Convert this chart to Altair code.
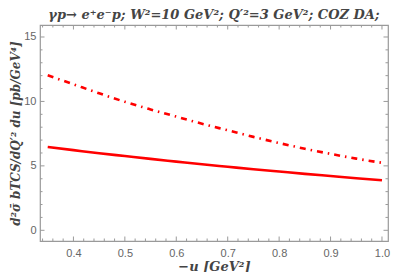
import altair as alt
import pandas as pd

u_vals = [0.35, 0.40, 0.45, 0.50, 0.55, 0.60, 0.65, 0.70, 0.75, 0.80, 0.85, 0.90, 0.95, 1.00]
solid_vals = [6.46, 6.22, 5.98, 5.76, 5.54, 5.33, 5.12, 4.93, 4.74, 4.56, 4.38, 4.21, 4.04, 3.88]
dashdot_vals = [12.03, 11.33, 10.63, 9.97, 9.38, 8.82, 8.27, 7.76, 7.25, 6.77, 6.33, 5.93, 5.56, 5.24]

x_major = [0.4, 0.5, 0.6, 0.7, 0.8, 0.9, 1.0]
x_minor = [0.34, 0.36, 0.38, 0.42, 0.44, 0.46, 0.48, 0.52, 0.54, 0.56, 0.58,
           0.62, 0.64, 0.66, 0.68, 0.72, 0.74, 0.76, 0.78, 0.82, 0.84, 0.86,
           0.88, 0.92, 0.94, 0.96, 0.98]
y_major = [0, 5, 10, 15]
y_minor = [1, 2, 3, 4, 6, 7, 8, 9, 11, 12, 13, 14]

W, H = 348, 216
gray = "#9a9a9a"
lab = "#666666"
serif = "DejaVu Serif"

xs = alt.Scale(domain=[0.335, 1.0117], nice=False, zero=False)
ys = alt.Scale(domain=[-0.83, 15.93], nice=False, zero=False)

df = pd.DataFrame({"u": u_vals, "solid": solid_vals, "dashdot": dashdot_vals})

xaxis = alt.Axis(values=x_major, format=".1f", grid=False, ticks=False, domain=False,
                 labelColor=lab, labelFont="Liberation Sans", labelFontSize=11,
                 labelPadding=6, title="−u [GeV²]", titleFont=serif,
                 titleFontStyle="italic", titleFontWeight="bold", titleFontSize=13,
                 titleColor="#444444", titlePadding=2)
yaxis = alt.Axis(values=y_major, format="d", grid=False, ticks=False, domain=False,
                 labelColor=lab, labelFont="Liberation Sans", labelFontSize=11,
                 labelPadding=4, title="d²σ̄ bTCS/dQ′² du  [pb/GeV⁴]",
                 titleFont=serif, titleFontStyle="italic",
                 titleFontWeight="bold", titleFontSize=12, titleColor="#444444",
                 titlePadding=1)

base = alt.Chart(df)
solid = base.mark_line(color="#ff0000", strokeWidth=2.6, interpolate="monotone").encode(
    x=alt.X("u:Q", scale=xs, axis=xaxis),
    y=alt.Y("solid:Q", scale=ys, axis=yaxis),
)
dashdot = base.mark_line(color="#ff0000", strokeWidth=2.6, interpolate="monotone",
                         strokeDash=[6, 5, 1.5, 5]).encode(
    x=alt.X("u:Q", scale=xs),
    y=alt.Y("dashdot:Q", scale=ys),
)

def xticks(vals, length):
    d = pd.DataFrame({"v": vals})
    b = alt.Chart(d).mark_rule(color=gray, strokeWidth=1)
    bottom = b.encode(x=alt.X("v:Q", scale=xs), y=alt.value(H), y2=alt.value(H - length))
    top = b.encode(x=alt.X("v:Q", scale=xs), y=alt.value(0), y2=alt.value(length))
    return [bottom, top]

def yticks(vals, length):
    d = pd.DataFrame({"v": vals})
    b = alt.Chart(d).mark_rule(color=gray, strokeWidth=1)
    left = b.encode(y=alt.Y("v:Q", scale=ys), x=alt.value(0), x2=alt.value(length))
    right = b.encode(y=alt.Y("v:Q", scale=ys), x=alt.value(W), x2=alt.value(W - length))
    return [left, right]

layers = xticks(x_major, 4.5) + xticks(x_minor, 2.5) + yticks(y_major, 4.5) + yticks(y_minor, 2.5)

chart = alt.layer(*layers, solid, dashdot).properties(
    width=W, height=H,
    title=alt.TitleParams("γp→ e⁺e⁻p;  W²=10 GeV²;  Q′²=3 GeV²; COZ DA;",
                          font=serif, fontStyle="italic", fontWeight="bold",
                          fontSize=13, color="#444444", anchor="middle", offset=3),
    autosize=alt.AutoSizeParams(type="none"),
    padding={"left": 32, "top": 17, "right": 11, "bottom": 31},
).configure_view(stroke=gray, strokeWidth=1.2)

chart.save("out.html", embed_options={"renderer": "svg", "actions": False})
